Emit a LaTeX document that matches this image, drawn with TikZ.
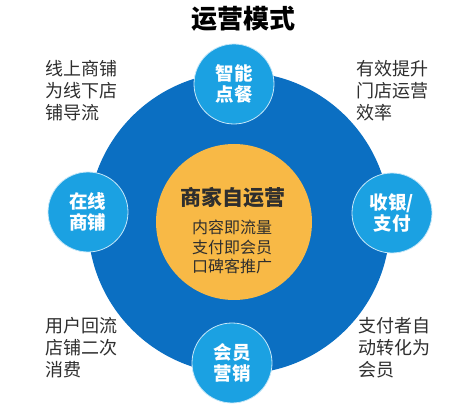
\documentclass[tikz,border=0pt]{standalone}
\usepackage{fontspec}
\newfontfamily\cjk{Noto Sans CJK SC}
\definecolor{bigblue}{HTML}{0B6FC2}
\definecolor{smallblue}{HTML}{1BA1E2}
\definecolor{orangefill}{HTML}{F8B946}
\definecolor{txtgray}{HTML}{2E2E2E}
\tikzset{
  smallc/.style={circle, fill=smallblue, draw=white!75!smallblue, line width=0.8pt, minimum size=80pt, inner sep=0pt, text=white, align=center, font=\cjk\bfseries\fontsize{18.5}{21}\selectfont},
  sidetext/.style={anchor=west, align=left, text=txtgray, inner sep=0pt, font=\cjk\fontsize{18}{22}\selectfont},
}
\begin{document}
\begin{tikzpicture}[x=1pt,y=1pt]
\useasboundingbox (0,0) rectangle (456,405);
\node[font=\cjk\bfseries\fontsize{26}{30}\selectfont, text=black, inner sep=0pt] (title) at (243,386) {运营模式};
\node[circle, fill=bigblue, minimum size=302pt, inner sep=0pt] (big) at (239,182) {};
\node[circle, fill=orangefill, minimum size=156pt, inner sep=0pt] (core) at (234,183) {};
\node[font=\cjk\bfseries\fontsize{21}{24}\selectfont, text=txtgray, inner sep=0pt] (coretitle) at (233,207) {商家自运营};
\node[font=\cjk\fontsize{16}{19.5}\selectfont, text=txtgray, align=center, inner sep=0pt] (coresub) at (232,158) {内容即流量\\支付即会员\\口碑客推广};
\node[smallc] (top) at (234,321) {智能\\点餐};
\node[smallc] (bottom) at (232,42) {会员\\营销};
\node[smallc] (left) at (88,193) {在线\\商铺};
\node[smallc] (right) at (392,192) {收银/\\支付};
\node[sidetext] (tl) at (45,314) {线上商铺\\为线下店\\铺导流};
\node[sidetext] (tr) at (356,314) {有效提升\\门店运营\\效率};
\node[sidetext] (bl) at (45,57) {用户回流\\店铺二次\\消费};
\node[sidetext] (br) at (358,57) {支付者自\\动转化为\\会员};
\end{tikzpicture}
\end{document}
